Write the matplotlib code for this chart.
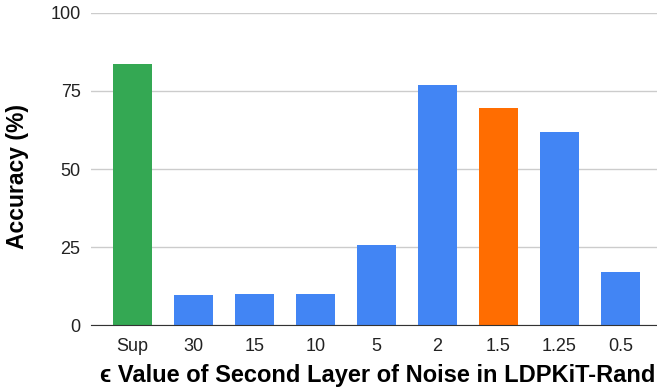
import numpy as np
import matplotlib.pyplot as plt

plt.rcParams['font.family'] = ['Liberation Sans', 'DejaVu Sans']

# data
categories = ['Sup', '30', '15', '10', '5', '2', '1.5', '1.25', '0.5']
accuracy = [83.6, 9.7, 10.1, 10.1, 25.8, 76.8, 69.4, 61.9, 17.2]
colors = ['#34A853', '#4285F4', '#4285F4', '#4285F4', '#4285F4',
          '#4285F4', '#FF6D01', '#4285F4', '#4285F4']

fig = plt.figure(figsize=(6.57, 3.89), dpi=100)
ax = fig.add_axes([0.1385, 0.1637, 0.8615, 0.8033])

x = np.arange(len(categories))
ax.bar(x, accuracy, width=0.64, color=colors, zorder=3)

ax.set_xlim(-0.68, 8.6)
ax.set_ylim(0, 100)
ax.set_yticks([0, 25, 50, 75, 100])
ax.set_xticks(x)
ax.set_xticklabels(categories)
ax.tick_params(axis='both', length=0, labelsize=13, colors='#222222')
ax.tick_params(axis='y', pad=7.5)
ax.tick_params(axis='x', pad=9)
ax.grid(axis='y', color='#cccccc', linewidth=1, zorder=0)

for s in ['top', 'right', 'left']:
    ax.spines[s].set_visible(False)
ax.spines['bottom'].set_color('#333333')
ax.spines['bottom'].set_zorder(4)

fig.text(17.5 / 657, 1 - 176.5 / 389, 'Accuracy (%)', rotation=90,
         fontsize=16.5, fontweight='bold', ha='center', va='center')
fig.text(377.5 / 657, 1 - 381.7 / 389,
         '\u03f5 Value of Second Layer of Noise in LDPKiT-Rand',
         fontsize=17, fontweight='bold', ha='center', va='baseline')

fig.savefig('out.png', dpi=100)
